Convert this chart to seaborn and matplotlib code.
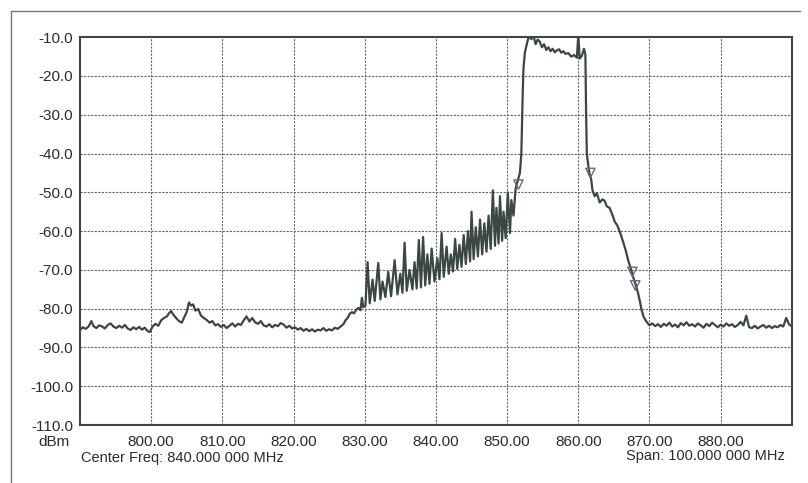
import matplotlib
matplotlib.use("Agg")
import matplotlib.pyplot as plt
import seaborn as sns
import pandas as pd
from matplotlib.lines import Line2D

# spectrum trace (MHz, dBm)
freq_mhz = [
    790.0, 790.4, 790.8, 791.2, 791.6, 791.9, 792.3, 792.7, 793.1, 793.5,
    793.9, 794.3, 794.7, 795.1, 795.5, 795.9, 796.3, 796.7, 797.1, 797.5,
    797.9, 798.3, 798.7, 799.1, 799.5, 799.8, 800.2, 800.6, 801.0, 801.4,
    801.8, 802.2, 802.5, 802.8, 803.1, 803.5, 803.9, 804.3, 804.7, 805.0,
    805.3, 805.6, 805.9, 806.2, 806.6, 807.0, 807.4, 807.8, 808.2, 808.6,
    809.0, 809.4, 809.8, 810.2, 810.6, 811.0, 811.4, 811.8, 812.2, 812.6,
    813.0, 813.4, 813.8, 814.2, 814.6, 815.0, 815.4, 815.8, 816.2, 816.6,
    817.0, 817.4, 817.8, 818.2, 818.6, 819.0, 819.4, 819.8, 820.2, 820.6,
    821.0, 821.4, 821.8, 822.2, 822.6, 823.0, 823.4, 823.8, 824.2, 824.6,
    825.0, 825.4, 825.8, 826.2, 826.6, 827.0, 827.3, 827.6, 827.9, 828.2,
    828.5, 828.8, 829.1, 829.4, 829.6, 829.8,
    830.1, 830.4, 830.7, 831.1, 831.4, 831.9, 832.2, 832.5, 832.9, 833.3,
    833.7, 834.2, 834.6, 835.0, 835.3, 835.6, 835.9, 836.3, 836.7, 837.0,
    837.3, 837.6, 837.9, 838.2, 838.5, 838.8, 839.1, 839.4, 839.8, 840.2,
    840.5, 840.8, 841.1, 841.5, 841.8, 842.1, 842.4, 842.7, 843.0, 843.3,
    843.6, 843.9, 844.2, 844.5, 844.8, 845.0, 845.3, 845.6, 845.9, 846.2,
    846.5, 846.8, 847.1, 847.4, 847.7, 848.0, 848.3, 848.5, 848.8, 849.0,
    849.3, 849.5, 849.8, 850.1, 850.4, 850.6, 850.9,
    851.2, 851.5, 851.8, 852.0, 852.1, 852.2, 852.3, 852.5, 852.8, 853.1,
    853.4, 853.7, 854.0, 854.3, 854.6, 854.9, 855.2, 855.5, 855.8, 856.1,
    856.4, 856.7, 857.0, 857.3, 857.6, 857.9, 858.2, 858.6, 859.0, 859.4,
    859.8, 860.0, 860.2, 860.5, 860.8, 861.0, 861.1, 861.2, 861.4, 861.6,
    861.8, 862.0, 862.3, 862.6, 863.0, 863.4, 863.7, 864.0, 864.4, 864.8,
    865.1, 865.5, 865.9, 866.3, 866.7, 867.0, 867.4, 867.7, 868.1, 868.4,
    868.7, 868.9, 869.2, 869.6, 870.0,
    870.4, 870.8, 871.2, 871.6, 872.0, 872.4, 872.8, 873.2, 873.6, 874.0,
    874.4, 874.8, 875.2, 875.6, 876.0, 876.4, 876.8, 877.2, 877.6, 878.0,
    878.4, 878.8, 879.2, 879.6, 880.0, 880.4, 880.8, 881.2, 881.6, 882.0,
    882.4, 882.8, 883.2, 883.6, 884.0, 884.4, 884.8, 885.2, 885.6, 886.0,
    886.4, 886.8, 887.2, 887.6, 888.0, 888.4, 888.8, 889.2, 889.6, 890.0,
]
level_dbm = [
    -85.5, -84.8, -85.2, -84.6, -83.2, -84.5, -85.0, -84.3, -84.6, -85.1,
    -84.2, -83.8, -84.6, -85.0, -84.4, -84.9, -84.2, -85.1, -85.5, -84.8,
    -85.3, -84.7, -85.4, -84.9, -85.8, -86.0, -84.6, -83.9, -84.4, -83.0,
    -82.4, -82.0, -81.2, -80.6, -81.5, -82.4, -83.2, -83.6, -82.0, -80.8,
    -78.4, -79.2, -78.9, -80.5, -80.1, -81.8, -82.4, -82.9, -83.6, -83.2,
    -84.3, -84.0, -84.7, -84.2, -85.0, -84.4, -83.8, -84.6, -83.9, -84.2,
    -83.0, -82.0, -83.3, -82.4, -83.5, -83.9, -83.2, -84.3, -84.6, -84.0,
    -84.8, -84.2, -84.5, -83.7, -84.1, -84.9, -84.4, -85.1, -84.8, -85.4,
    -85.0, -85.7, -85.2, -85.8, -85.3, -85.9, -85.4, -85.6, -85.0, -85.7,
    -85.3, -85.6, -84.9, -85.2, -84.6, -84.0, -83.0, -82.4, -81.3, -80.9,
    -81.2, -80.3, -79.8, -80.4, -77.2, -79.6,
    -79.2, -68.0, -78.6, -72.5, -78.0, -68.2, -77.6, -73.0, -77.0, -70.5,
    -76.8, -67.5, -76.3, -71.0, -75.9, -63.0, -75.4, -70.0, -75.0, -68.0,
    -74.8, -62.3, -74.5, -61.5, -74.0, -66.0, -73.6, -64.5, -73.0, -67.0,
    -72.4, -60.5, -71.8, -64.0, -71.0, -66.0, -70.4, -62.0, -69.8, -63.5,
    -69.2, -61.0, -68.5, -60.0, -67.8, -55.0, -67.2, -59.0, -66.5, -57.0,
    -66.0, -58.0, -65.3, -56.0, -64.6, -49.5, -63.8, -54.0, -63.2, -51.0,
    -62.5, -55.0, -61.8, -50.0, -60.5, -52.0, -56.0,
    -49.0, -47.0, -45.0, -40.0, -32.0, -24.0, -18.0, -14.0, -11.5, -9.5,
    -10.5, -9.5, -11.8, -10.6, -11.2, -12.6, -11.8, -13.3, -12.6, -13.6,
    -13.0, -13.9, -13.4, -13.1, -14.0, -13.6, -14.3, -14.1, -15.0, -14.6,
    -15.3, -9.5, -15.5, -14.8, -13.0, -14.5, -30.0, -40.0, -43.0, -45.5,
    -46.5, -49.5, -51.0, -50.2, -52.6, -51.8, -52.2, -53.6, -54.0, -55.8,
    -57.5, -58.6, -60.5, -62.8, -65.2, -67.5, -69.8, -71.8, -74.0, -76.0,
    -78.5, -80.4, -82.2, -83.4, -84.3,
    -83.8, -84.5, -84.0, -84.7, -83.9, -84.4, -83.6, -84.6, -84.1, -84.8,
    -83.7, -84.3, -83.5, -84.4, -84.0, -84.6, -83.8, -84.3, -84.9, -83.9,
    -84.5, -83.6, -84.2, -84.8, -84.1, -84.6, -83.8, -84.4, -84.0, -84.7,
    -84.2, -83.4, -84.3, -81.8, -84.8, -85.0, -84.4, -85.1, -84.6, -84.2,
    -84.9, -84.4, -85.0, -84.5, -84.8, -84.2, -84.6, -82.4, -84.0, -84.6,
]

# delta markers on the trace
marker_freq = [851.6, 861.7, 867.6, 868.0]
marker_level = [-48.0, -45.0, -70.5, -74.0]

x_ticks = [800, 810, 820, 830, 840, 850, 860, 870, 880]
x_labels = ["800.00", "810.00", "820.00", "830.00", "840.00",
            "850.00", "860.00", "870.00", "880.00"]
y_ticks = [-110, -100, -90, -80, -70, -60, -50, -40, -30, -20, -10]
y_labels = ["-110.0", "-100.0", "-90.0", "-80.0", "-70.0", "-60.0",
            "-50.0", "-40.0", "-30.0", "-20.0", "-10.0"]

sns.set_style("white")
plt.rcParams["font.family"] = ["Liberation Sans", "DejaVu Sans"]

df = pd.DataFrame({"freq": freq_mhz, "level": level_dbm})

fig = plt.figure(figsize=(8.08, 4.83), dpi=100)
ax = fig.add_axes([0.099, 0.120, 0.881, 0.803])

sns.lineplot(data=df, x="freq", y="level", ax=ax, color="#3a4742",
             linewidth=1.6, estimator=None, sort=False)
ax.scatter(marker_freq, marker_level, marker="v", s=45,
           facecolors="none", edgecolors="#7a5f78", linewidths=1.0, zorder=4)

ax.set_xlim(790, 890)
ax.set_ylim(-110, -10)

# dotted grid every 10 MHz / 10 dB
for xv in range(800, 890, 10):
    ax.axvline(xv, color="#666666", lw=0.8, ls=(0, (2, 1.2)), zorder=0)
for yv in range(-100, -10, 10):
    ax.axhline(yv, color="#666666", lw=0.8, ls=(0, (2, 1.2)), zorder=0)

ax.set_xticks(x_ticks)
ax.set_xticklabels(x_labels)
ax.set_yticks(y_ticks)
ax.set_yticklabels(y_labels)
ax.tick_params(axis="both", length=0, labelsize=11, colors="#2b2b2b")
ax.tick_params(axis="x", pad=7)
ax.tick_params(axis="y", pad=5)
ax.set_xlabel("")
ax.set_ylabel("")

for sp in ax.spines.values():
    sp.set_color("#444444")
    sp.set_linewidth(1.5)

fig.text(70 / 808, 1 - 442 / 483, "dBm", ha="right", va="center",
         fontsize=11, color="#2b2b2b")
fig.text(81 / 808, 1 - 458 / 483, "Center Freq: 840.000 000 MHz",
         ha="left", va="center", fontsize=10.5, color="#2b2b2b")
fig.text(785 / 808, 1 - 456 / 483, "Span: 100.000 000 MHz",
         ha="right", va="center", fontsize=10.5, color="#2b2b2b")

# scanned page frame (left and top edges)
fig.add_artist(Line2D([11 / 808, 11 / 808], [0, 1 - 11 / 483],
                      transform=fig.transFigure, color="#777777", lw=1.0))
fig.add_artist(Line2D([11 / 808, 800 / 808], [1 - 11 / 483, 1 - 11 / 483],
                      transform=fig.transFigure, color="#777777", lw=1.0))

fig.savefig("out.png", dpi=100)
